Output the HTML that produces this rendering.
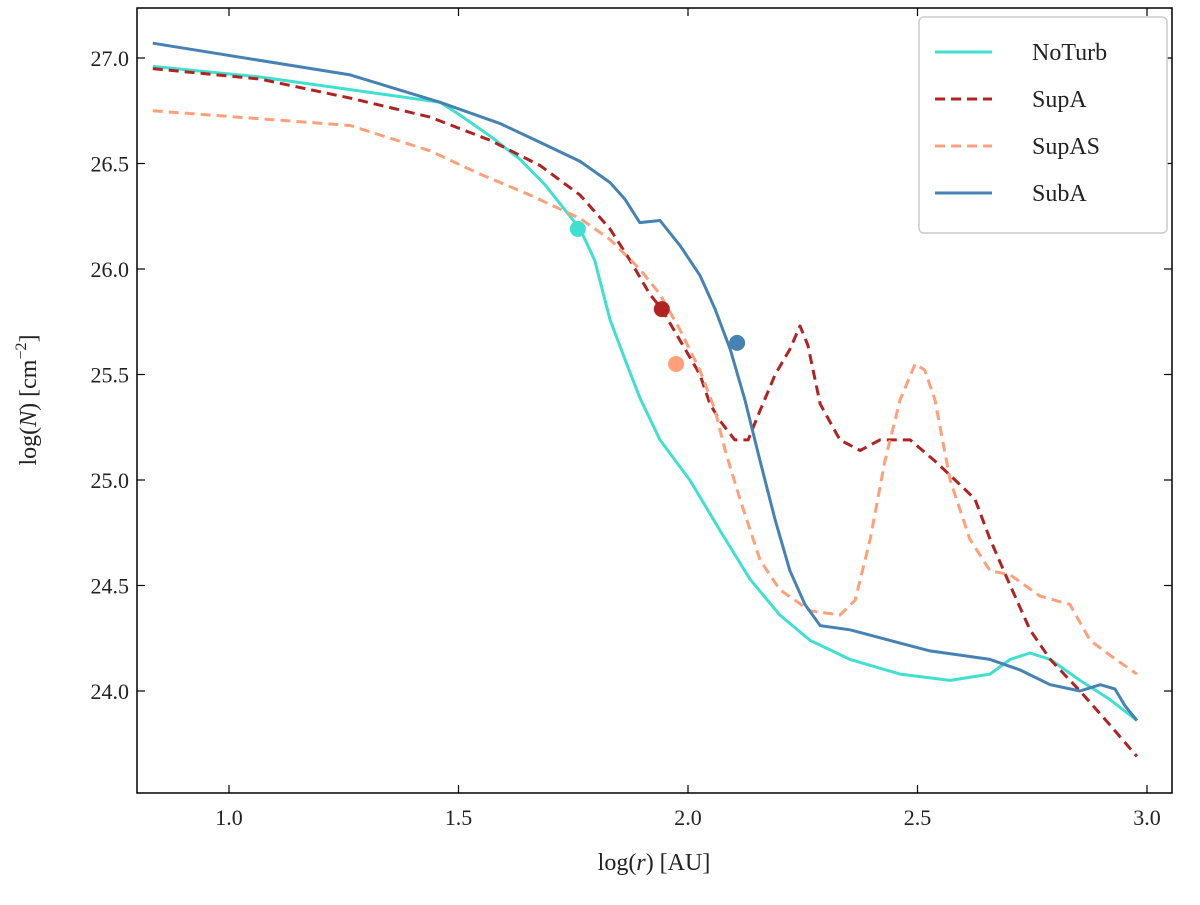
<!DOCTYPE html>
<html><head><meta charset="utf-8"><style>
body{margin:0;background:#fff}
svg text{font-family:"Liberation Serif",serif;fill:#222}
</style></head><body>
<svg id="chart" width="1200" height="900" xmlns="http://www.w3.org/2000/svg">
<rect width="1200" height="900" fill="#fff"/>
<g id="plot"></g>
</svg>
<script>
const xTicks=[1.0,1.5,2.0,2.5,3.0];
const yTicks=[24.0,24.5,25.0,25.5,26.0,26.5,27.0];
const seriesNames=["NoTurb","SupA","SupAS","SubA"];
const noTurbX=[0.834,1.068,1.264,1.46,1.503,1.569,1.634,1.688,1.732,1.765,1.797,1.830,1.863,1.895,1.939,2.004,2.070,2.135,2.200,2.266,2.353,2.462,2.571,2.658,2.702,2.745,2.789,2.854,2.919,2.978];
const noTurbY=[26.96,26.91,26.85,26.79,26.73,26.63,26.52,26.40,26.28,26.19,26.04,25.76,25.57,25.39,25.19,25.00,24.76,24.53,24.36,24.24,24.15,24.08,24.05,24.08,24.15,24.18,24.15,24.05,23.96,23.86];
const supAX=[0.834,1.068,1.264,1.438,1.569,1.678,1.765,1.830,1.874,1.917,1.943,1.983,2.026,2.048,2.070,2.102,2.131,2.157,2.190,2.222,2.244,2.261,2.288,2.331,2.375,2.418,2.484,2.538,2.582,2.625,2.658,2.702,2.745,2.789,2.854,2.919,2.978];
const supAY=[26.95,26.90,26.81,26.72,26.61,26.49,26.35,26.19,26.04,25.88,25.81,25.66,25.50,25.36,25.28,25.19,25.19,25.33,25.50,25.62,25.73,25.64,25.36,25.19,25.14,25.19,25.19,25.09,25.00,24.91,24.72,24.50,24.29,24.15,24.00,23.84,23.69];
const supASX=[0.834,1.264,1.438,1.547,1.656,1.765,1.830,1.895,1.939,1.983,2.026,2.059,2.081,2.113,2.157,2.200,2.266,2.331,2.364,2.397,2.429,2.462,2.495,2.516,2.538,2.571,2.614,2.658,2.702,2.767,2.832,2.876,2.919,2.978];
const supASY=[26.75,26.68,26.56,26.45,26.35,26.24,26.14,26.00,25.88,25.71,25.52,25.33,25.14,24.91,24.62,24.48,24.38,24.36,24.43,24.72,25.09,25.38,25.55,25.52,25.38,25.00,24.72,24.57,24.55,24.45,24.41,24.24,24.17,24.08];
const subAX=[0.834,1.264,1.460,1.590,1.678,1.765,1.830,1.863,1.895,1.939,1.983,2.026,2.059,2.092,2.124,2.157,2.190,2.222,2.255,2.288,2.353,2.440,2.527,2.593,2.658,2.723,2.789,2.854,2.898,2.930,2.952,2.978];
const subAY=[27.07,26.92,26.79,26.69,26.60,26.51,26.41,26.33,26.22,26.23,26.11,25.97,25.81,25.62,25.38,25.09,24.81,24.57,24.41,24.31,24.29,24.24,24.19,24.17,24.15,24.10,24.03,24.00,24.03,24.01,23.93,23.86];
const markerX=[1.760,1.943,1.974,2.107];
const markerY=[26.19,25.81,25.55,25.65];
const colors=["#40e0d0","#b22222","#ffa07a","#4682b4"];
const dashes=["","10,6","10,6",""];
const L=137,R=1172,T=8,B=793;
const sx=v=>229+(v-1)*459;
const sy=v=>58+(27-v)*211;
const NS="http://www.w3.org/2000/svg";
const g=document.getElementById('plot');
function mk(tag,attrs,parent){const e=document.createElementNS(NS,tag);for(const k in attrs)e.setAttribute(k,attrs[k]);(parent||g).appendChild(e);return e;}
const xs=[noTurbX,supAX,supASX,subAX], ys=[noTurbY,supAY,supASY,subAY];
const names=["noturb-line","supa-line","supas-line","suba-line"];
for(let i=0;i<4;i++){
  const d=xs[i].map((x,j)=>(j?'L':'M')+sx(x).toFixed(1)+','+sy(ys[i][j]).toFixed(1)).join(' ');
  const p=mk('path',{d:d,fill:'none',stroke:colors[i],'stroke-width':3,'stroke-dasharray':dashes[i],'stroke-linejoin':'round'});
  
  
}
const mnames=["noturb-marker","supa-marker","supas-marker","suba-marker"];
for(let i=0;i<4;i++){
  const c=mk('circle',{cx:sx(markerX[i]),cy:sy(markerY[i]),r:8,fill:colors[i]});
  
  
}
const frame=mk('rect',{x:L,y:T,width:R-L,height:B-T,fill:'none',stroke:'#000','stroke-width':1.5});


xTicks.forEach(t=>{
  const x=sx(t);
  mk('line',{x1:x,x2:x,y1:B,y2:B-8,stroke:'#000','stroke-width':1.2});
  mk('line',{x1:x,x2:x,y1:T,y2:T+8,stroke:'#000','stroke-width':1.2});
  const tx=mk('text',{x:x,y:B+32,'text-anchor':'middle','font-size':22});
  tx.textContent=t.toFixed(1);
  
  
});
yTicks.forEach(t=>{
  const y=sy(t);
  mk('line',{x1:L,x2:L+8,y1:y,y2:y,stroke:'#000','stroke-width':1.2});
  mk('line',{x1:R,x2:R-8,y1:y,y2:y,stroke:'#000','stroke-width':1.2});
  const tx=mk('text',{x:L-8,y:y+8,'text-anchor':'end','font-size':22});
  tx.textContent=t.toFixed(1);
  
  
});
const xt=mk('text',{x:654,y:870,'text-anchor':'middle','font-size':24});
xt.innerHTML='log(<tspan font-style="italic">r</tspan>) [AU]';


const yt=mk('text',{x:0,y:0,'text-anchor':'middle','font-size':24,transform:'translate(36,400) rotate(-90)'});
yt.innerHTML='log(<tspan font-style="italic">N</tspan>) [cm<tspan dy="-10" font-size="16">−2</tspan><tspan dy="10">]</tspan>';


const lg=mk('g',{});


mk('rect',{x:919,y:17,width:248,height:216,rx:5,fill:'#fff',stroke:'#ccc','stroke-width':1.5},lg);
seriesNames.forEach((n,i)=>{
  const y=52+i*47;
  const e=mk('g',{},lg);
  
  
  mk('line',{x1:935,x2:992,y1:y,y2:y,stroke:colors[i],'stroke-width':3,'stroke-dasharray':dashes[i]},e);
  const t=mk('text',{x:1032,y:y+8,'font-size':24},e);
  t.textContent=n;
});
</script>
</body></html>
